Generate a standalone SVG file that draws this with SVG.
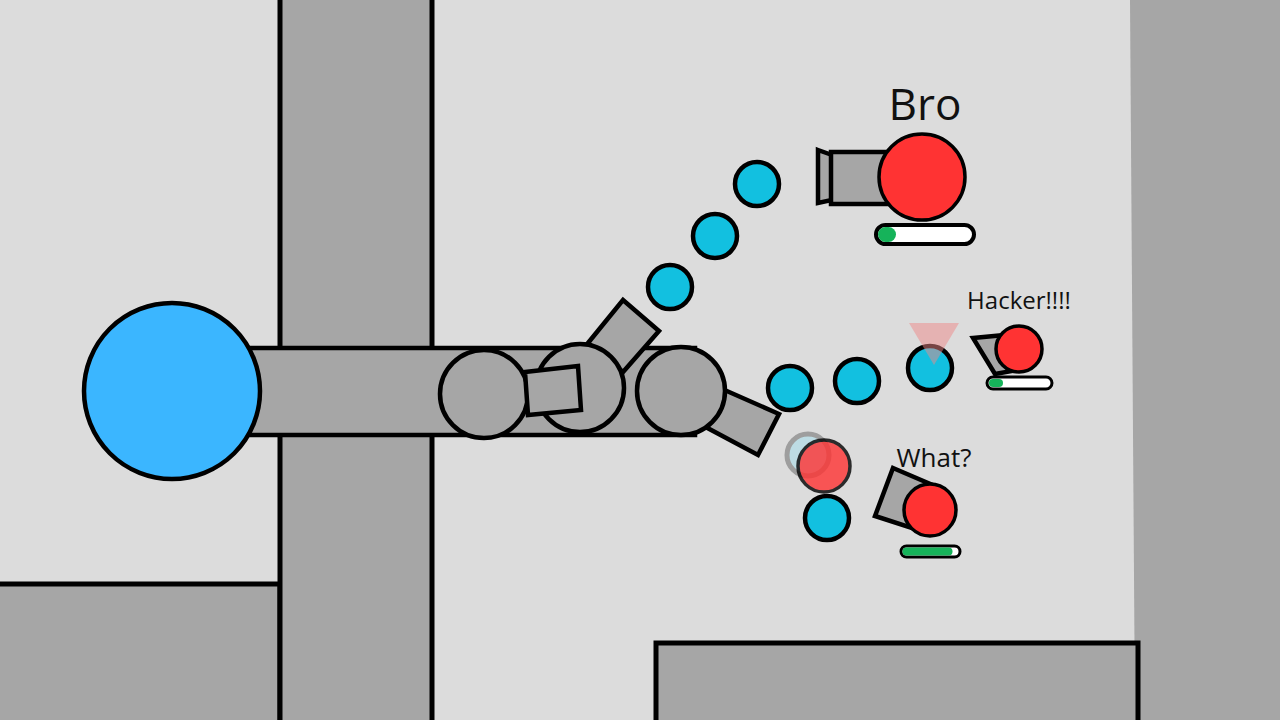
<svg xmlns="http://www.w3.org/2000/svg" width="1280" height="720" viewBox="0 0 1280 720">
<style>
.w{fill:#a6a6a6;stroke:#000;stroke-width:5}
.g{fill:#a6a6a6;stroke:#000;stroke-width:4.5;stroke-linejoin:miter}
.b{fill:#12c0e0;stroke:#000;stroke-width:4.5}
.r{fill:#ff3333;stroke:#000;stroke-width:3.5}
.t{font-family:"Open Sans","DejaVu Sans",sans-serif;fill:#111;text-anchor:middle}
</style>
<rect width="1280" height="720" fill="#dcdcdc"/>
<g id="walls">
<rect class="w" x="-5" y="584" width="285" height="145"/>
<rect class="w" x="280" y="-5" width="152" height="735"/>
<polygon points="1130,0 1280,0 1280,720 1135,720" fill="#a6a6a6"/>
<rect class="w" x="656" y="643" width="482" height="85"/>
</g>
<g id="heehee">
<rect class="g" x="245" y="348" width="450" height="87"/>
<circle cx="172" cy="391" r="88" fill="#3bb6ff" stroke="#000" stroke-width="4.5"/>
<circle class="g" cx="484" cy="394" r="44"/>
<polygon class="g" points="588,343 623,300 659,331 623,372"/>
<circle class="g" cx="580" cy="388" r="44"/>
<polygon class="g" points="525,372 578,366 581,410 528,415"/>
<polygon class="g" points="720,388 779,414 758,455 700,424"/>
<circle class="g" cx="681" cy="391" r="44"/>
</g>
<g id="bullets">
<circle class="b" cx="757" cy="184" r="22"/>
<circle class="b" cx="715" cy="236" r="22"/>
<circle class="b" cx="670" cy="287" r="22"/>
<circle class="b" cx="790" cy="388" r="22"/>
<circle class="b" cx="857" cy="381" r="22"/>
<circle class="b" cx="930" cy="368" r="22"/>
<circle class="b" cx="827" cy="518" r="22"/>
</g>
<g id="hit">
<circle cx="808" cy="455" r="21" fill="#b6dde6" stroke="#8f8f8f" stroke-width="5" opacity="0.8"/>
<circle cx="824" cy="466" r="26" fill="#ff3333" stroke="#000" stroke-width="3.5" opacity="0.8"/>
</g>
<g id="bro">
<text class="t" x="925" y="120" font-size="44">Bro</text>
<polygon class="g" points="818,150 832,155 832,200 818,203" stroke-width="3"/>
<rect class="g" x="831" y="152" width="60" height="52" stroke-width="3.5"/>
<circle class="r" cx="922" cy="177" r="43"/>
<rect x="876" y="225" width="98" height="19" rx="9.5" fill="#fff" stroke="#000" stroke-width="4"/>
<rect x="878" y="227" width="18" height="15" rx="7.5" fill="#16b35a"/>
</g>
<g id="hacker">
<polygon points="909,323 959,323 934,365" fill="#e88" opacity="0.5"/>
<text class="t" x="1019" y="309" font-size="24">Hacker!!!!</text>
<polygon class="g" points="973,338 1005,335 1012,371 995,374" stroke-width="3"/>
<circle class="r" cx="1019" cy="349" r="23" stroke-width="3"/>
<rect x="987" y="377" width="65" height="12" rx="6" fill="#fff" stroke="#000" stroke-width="3"/>
<rect x="989" y="379" width="14" height="8" rx="4" fill="#16b35a"/>
</g>
<g id="what">
<text class="t" x="934" y="467" font-size="26">What?</text>
<polygon class="g" points="893,468 935,486 921,531 875,516" stroke-width="3.5"/>
<circle class="r" cx="930" cy="510" r="26"/>
<rect x="901" y="546" width="59" height="11" rx="5.5" fill="#fff" stroke="#000" stroke-width="3"/>
<rect x="902.5" y="547.5" width="50" height="8" rx="4" fill="#16b35a"/>
</g>
</svg>
